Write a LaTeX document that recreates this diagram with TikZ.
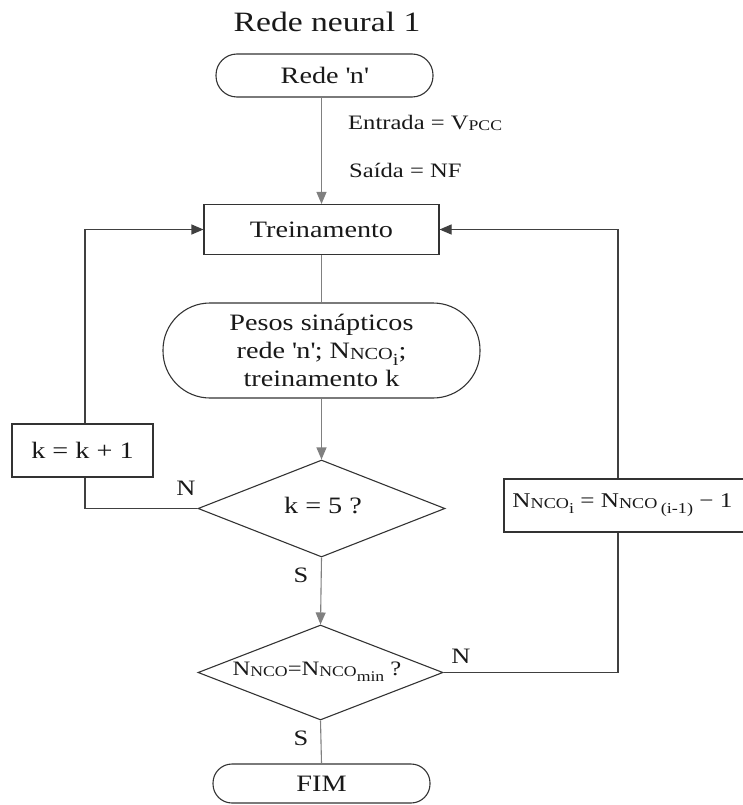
\documentclass[tikz,border=0pt]{standalone}
\usepackage{fontspec}
\setmainfont{Liberation Serif}[FakeStretch=1.2]
\usepackage{graphicx}
\usetikzlibrary{arrows.meta,shapes.geometric}
\newcommand{\smc}[1]{\raisebox{-0.04em}{\scalebox{0.72}{#1}}}
\newcommand{\lwr}[1]{\raisebox{-0.3em}{\scalebox{0.72}{#1}}}
\begin{document}
\begin{tikzpicture}[x=1pt,y=-1pt,
  box/.style={draw=black!80, line width=1.1pt, inner sep=0pt, text=black!90,
    font=\fontsize{23.5}{28}\selectfont},
  dia/.style={draw=black!80, line width=1.1pt, diamond, inner sep=0pt},
  txt/.style={inner sep=0pt, text=black!90, font=\fontsize{23.5}{28}\selectfont},
  lbl/.style={inner sep=0pt, text=black!90, font=\fontsize{22}{26}\selectfont},
  cline/.style={draw=black!50, line width=1.1pt},
  lline/.style={draw=black!75, line width=1.1pt},
  arr/.style={-{Triangle[length=12pt,width=10pt]}}]
\useasboundingbox (0,0) rectangle (743,805);

\node[txt, font=\fontsize{28}{32}\selectfont] (title) at (327,22) {Rede neural 1};
\node[box, rounded corners=21pt, minimum width=217pt, minimum height=43pt] (rede) at (324.5,75.5) {Rede \textquotesingle n\textquotesingle};
\node[txt, anchor=west, font=\fontsize{20.5}{24}\selectfont] (ent) at (348,123) {Entrada = V\smc{PCC}};
\node[txt, anchor=west, font=\fontsize{20.5}{24}\selectfont] (sai) at (349,170) {Saída = NF};
\node[box, minimum width=235pt, minimum height=50pt] (trein) at (321.5,229.5) {Treinamento};
\node[box, rounded corners=47pt, minimum width=317pt, minimum height=95pt, align=center] (pesos) at (321.5,350.5)
  {Pesos sinápticos\\rede \textquotesingle n\textquotesingle; N\smc{NCO}\lwr{i};\\treinamento k};
\node[dia, minimum width=247pt, minimum height=97pt] (d1) at (321.5,508.5) {};
\node[txt] (d1t) at (323,506) {k = 5 ?};
\node[dia, minimum width=245pt, minimum height=95pt] (d2) at (320.5,672.5) {};
\node[txt, font=\fontsize{20.5}{24}\selectfont] (d2t) at (317,672) {N\smc{NCO}=N\smc{NCO}\lwr{min} ?};
\node[box, rounded corners=19pt, minimum width=217pt, minimum height=39pt] (fim) at (321.5,783.5) {FIM};
\node[box, minimum width=141pt, minimum height=53pt] (kk) at (82.5,450.5) {k = k + 1};
\node[box, minimum width=245pt, minimum height=53pt, font=\fontsize{21}{25}\selectfont] (nn) at (626.5,505.5)
  {\hspace*{-4pt}N\smc{NCO}\lwr{i} = N\smc{NCO}\,\lwr{(i-1)} − 1\hspace*{4pt}};

\coordinate (lx) at (85,0);
\coordinate (rx) at (618,0);

\draw[cline,arr] (rede.south -| trein.north) -- (trein.north);
\draw[cline] (trein.south) -- (pesos.north);
\draw[cline,arr] (pesos.south) -- (d1.north);
\draw[cline,arr] (d1.south) -- (d2.north);
\draw[cline] (d2.south) -- (fim.north);

\draw[lline] (d1.west) -| (lx |- kk.south);
\draw[lline,arr] (lx |- kk.north) |- (trein.west);
\draw[lline] (d2.east) -| (rx |- nn.south);
\draw[lline,arr] (rx |- nn.north) |- (trein.east);

\node[lbl] (n1) at (186,488) {N};
\node[lbl] (s1) at (301,575) {S};
\node[lbl] (n2) at (461,656) {N};
\node[lbl] (s2) at (301,738) {S};
\end{tikzpicture}
\end{document}
